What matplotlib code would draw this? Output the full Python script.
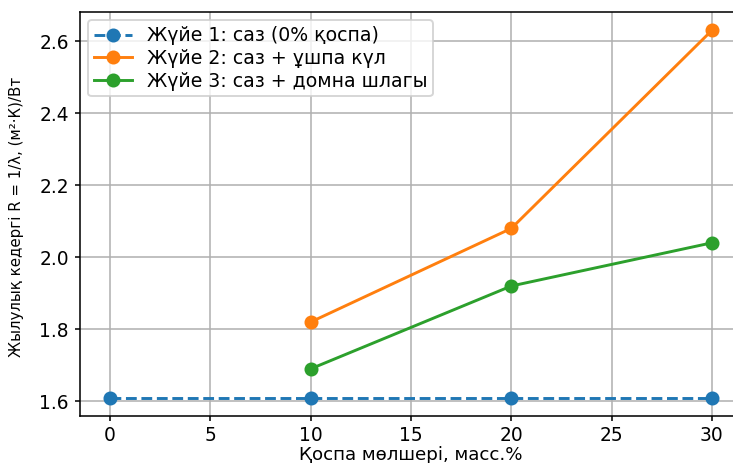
import matplotlib
matplotlib.use("Agg")
import matplotlib.pyplot as plt

# Additive content, mass %
x_base = [0, 10, 20, 30]
x_add = [10, 20, 30]

# Thermal resistance R = 1/λ, (m²·K)/W
r_clay = [1.61, 1.61, 1.61, 1.61]
r_fly_ash = [1.82, 2.08, 2.63]
r_slag = [1.69, 1.92, 2.04]

labels = [
    "Жүйе 1: саз (0% қоспа)",
    "Жүйе 2: саз + ұшпа күл",
    "Жүйе 3: саз + домна шлагы",
]

dpi = 140
W, H = 733, 463
fig = plt.figure(figsize=(W / dpi, H / dpi), dpi=dpi)
# axes box in pixel units; the right edge runs past the canvas
ax = fig.add_axes([80 / W, (H - 416) / H, (742 - 80) / W, (416 - 12) / H])

ax.plot(x_base, r_clay, "o--", markersize=6.2, label=labels[0])
ax.plot(x_add, r_fly_ash, "o-", markersize=6.2, label=labels[1])
ax.plot(x_add, r_slag, "o-", markersize=6.2, label=labels[2])

ax.set_xlabel("Қоспа мөлшері, масс.%", fontsize=9.4)
ax.set_ylabel("Жылулық кедергі R = 1/λ, (м²·К)/Вт", fontsize=7.7)
ax.xaxis.set_label_coords(0.5, -0.074)
ax.yaxis.set_label_coords(-0.084, 0.494)

ax.tick_params(axis="both", labelsize=9.6, length=2.7)
ax.tick_params(axis="x", pad=2.2)
ax.tick_params(axis="y", pad=3.0)

ax.grid(True)
ax.legend(loc="upper left", fontsize=9.7, labelspacing=0.2,
          borderaxespad=0.45, borderpad=0.3)

fig.savefig("out.png", dpi=dpi)
